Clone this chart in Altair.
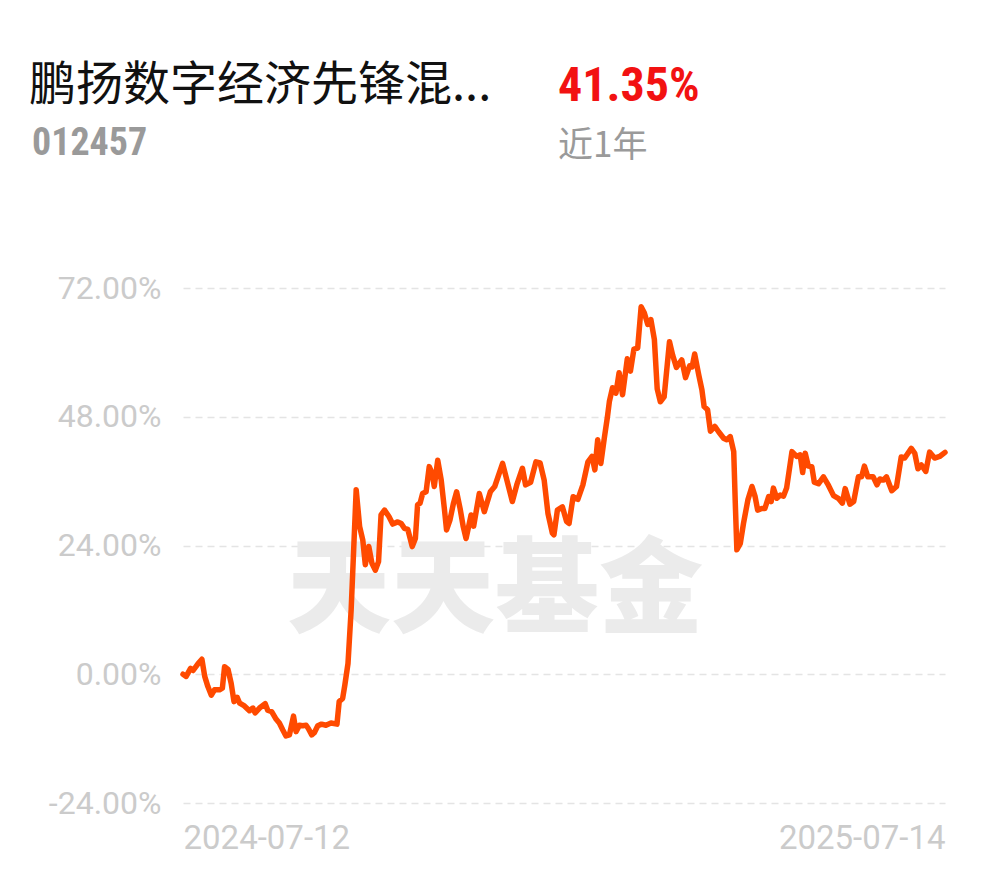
import altair as alt
import pandas as pd

# trading-day offsets from 2024-07-12 and cumulative return (%)
days = [0.0,1.0,2.4,3.2,4.8,6.0,6.9,7.9,9.0,10.0,11.6,12.5,13.2,14.3,15.3,16.2,17.2,18.0,19.5,21.1,22.2,22.9,24.3,26.1,26.9,28.2,29.6,30.6,31.7,32.7,33.8,35.1,35.9,37.0,38.0,39.1,39.8,40.9,41.7,42.8,44.0,45.4,47.0,48.9,49.6,50.7,51.4,52.4,53.4,54.2,55.0,56.1,57.1,57.9,59.0,60.0,61.1,62.1,62.9,64.0,65.4,66.6,68.2,69.3,70.3,71.4,72.8,73.8,74.5,75.3,76.1,77.2,78.2,79.1,79.8,80.9,82.0,83.0,83.7,84.8,85.9,86.9,88.0,89.0,89.9,91.5,92.3,94.1,95.7,97.6,99.0,101.5,104.6,106.1,107.8,108.8,110.4,112.1,113.4,114.7,115.9,117.3,117.8,118.9,120.5,121.8,122.6,123.9,125.4,127.0,128.6,129.9,130.8,131.7,132.7,133.8,134.8,135.4,136.4,137.5,138.5,139.6,141.1,142.1,143.2,144.4,145.5,146.5,147.6,148.6,149.7,150.6,151.6,152.8,154.5,155.5,156.7,158.4,159.6,160.9,161.7,162.5,163.8,164.8,165.5,166.6,167.5,168.9,170.1,171.7,172.7,173.8,174.9,175.4,175.9,177.0,178.0,179.4,180.7,181.7,182.5,183.8,184.8,186.0,186.8,187.5,188.6,189.7,190.7,191.7,193.4,194.9,196.0,196.8,197.6,198.6,199.7,200.5,201.8,203.4,205.0,206.6,208.1,209.4,210.3,211.8,213.0,214.5,215.5,216.4,217.5,219.2,220.4,221.3,222.4,223.4,225.1,226.6,228.1,229.2,231.3,232.4,233.4,234.5,235.9,237.1,238.7,240.3,242.0]
returns = [0.0,-0.4,1.1,0.7,2.0,2.8,-0.4,-2.3,-3.9,-2.9,-2.9,-2.6,1.4,0.9,-1.7,-5.1,-4.3,-5.4,-5.9,-6.8,-6.3,-7.2,-6.3,-5.5,-6.7,-7.0,-8.4,-9.1,-10.4,-11.5,-11.3,-7.8,-10.7,-9.5,-9.6,-9.5,-10.1,-11.3,-10.9,-9.6,-9.3,-9.5,-9.1,-9.3,-5.1,-4.5,-2.0,2.0,12.0,23.2,34.4,27.5,25.0,20.4,23.8,20.7,19.4,21.0,29.7,30.6,29.4,28.0,28.4,28.1,27.2,27.0,23.8,25.3,31.6,31.9,33.7,34.0,38.7,37.5,35.0,39.9,36.2,30.9,26.9,28.8,31.9,34.0,30.9,27.5,25.3,29.7,27.6,33.7,30.3,34.0,35.0,39.3,32.2,35.5,38.4,35.3,35.8,39.6,39.4,36.2,30.0,26.3,26.0,30.6,31.2,28.5,28.1,33.1,32.6,35.3,39.6,40.6,38.1,43.7,39.3,44.0,48.0,50.8,53.4,52.4,56.2,52.1,58.8,56.5,60.6,60.8,68.5,67.4,65.2,66.1,62.4,53.2,50.8,51.7,62.0,59.5,57.2,58.6,55.3,57.5,57.3,59.7,55.8,53.0,49.9,49.3,45.3,46.2,45.2,44.0,43.7,44.3,41.5,31.9,23.2,24.4,28.1,32.5,35.0,33.1,30.6,30.9,30.9,33.1,32.2,34.7,32.8,33.4,33.2,34.7,41.5,40.6,40.9,37.6,41.2,38.8,38.7,35.8,35.5,36.8,35.2,33.3,32.8,31.9,34.6,31.7,32.2,36.8,36.8,38.8,36.8,36.8,35.3,36.4,36.2,36.8,34.2,35.0,40.5,40.3,42.1,41.2,38.3,39.0,37.8,41.4,40.3,40.6,41.35]

y_ticks = [-24, 0, 24, 48, 72]
x_ticks = [0, 242]
x_tick_labels = ["2024-07-12", "2025-07-14"]

fund_name = "鹏扬数字经济先锋混..."
fund_code = "012457"
period_return = "41.35%"
period_label = "近1年"
watermark = "天天基金"

df = pd.DataFrame({"day": days, "ret": returns})

label_expr = "datum.value == {} ? '{}' : '{}'".format(x_ticks[0], x_tick_labels[0], x_tick_labels[1])
y_label_expr = "(datum.value < 0 ? '-' : '') + format(abs(datum.value), '.2f') + '%'"

narrow = "'Roboto Condensed', Roboto, sans-serif"

base = alt.Chart(df)

line = base.mark_line(color="#ff4a00", strokeWidth=5.5, strokeJoin="round", strokeCap="round").encode(
    x=alt.X("day:Q",
            scale=alt.Scale(domain=[x_ticks[0], x_ticks[1]], nice=False, zero=False),
            axis=alt.Axis(values=x_ticks, labelExpr=label_expr, labelFlush=True, grid=False,
                          domain=False, ticks=False, labelPadding=19, labelFont="Roboto",
                          labelFontSize=33, labelColor="#cbcbcb", title=None)),
    y=alt.Y("ret:Q",
            scale=alt.Scale(domain=[y_ticks[0], y_ticks[-1]], nice=False, zero=False),
            axis=alt.Axis(values=y_ticks, labelExpr=y_label_expr,
                          grid=True, gridDash=[7, 5], gridColor="#e4e4e4", gridWidth=1.5,
                          domain=False, ticks=False, labelPadding=22, labelFont="Roboto",
                          labelFontSize=32, labelColor="#cbcbcb", title=None)),
)

def text_layer(txt, **kw):
    return alt.Chart(pd.DataFrame({"t": [txt]})).mark_text(**kw).encode(text="t:N")

wm = text_layer(watermark, font="Noto Sans CJK SC", fontSize=104, fontWeight=900,
                color="#ebebeb", align="center", baseline="middle",
                x=312, y=306)
title = text_layer(fund_name, font="Noto Sans CJK SC", fontSize=47, color="#111111",
                   align="left", baseline="middle", x=-154, y=-202)
ret = text_layer(period_return, font=narrow, fontSize=48, fontWeight="bold",
                 color="#f21212", align="left", baseline="middle", x=375, y=-201)
code = text_layer(fund_code, font=narrow, fontSize=38, fontWeight="bold",
                  color="#9a9a9a", align="left", baseline="middle", x=-151, y=-144)
per = text_layer(period_label, font="Noto Sans CJK SC", fontSize=35, color="#9a9a9a",
                 align="left", baseline="middle", x=375, y=-142)

chart = alt.layer(wm, line, title, ret, code, per).properties(
    width=762, height=515,
    autosize=alt.AutoSizeParams(type="none"),
    padding={"left": 175, "top": 280, "right": 30, "bottom": 60},
).configure_view(stroke=None)

chart.save("out.html", embed_options={"renderer": "svg", "actions": False})
